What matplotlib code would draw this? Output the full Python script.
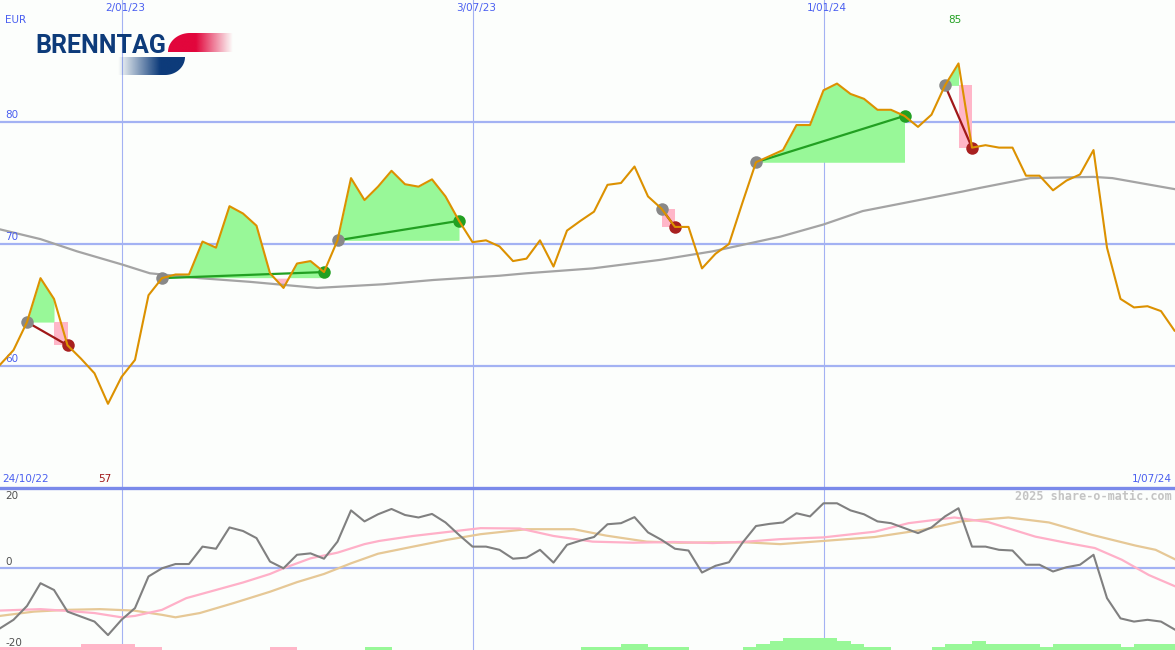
import numpy as np
import matplotlib
matplotlib.use("Agg")
import matplotlib.pyplot as plt
from matplotlib.path import Path
from matplotlib.patches import PathPatch

# weekly closes (EUR), week 0 .. week 87
price = [60.1, 61.3, 63.6, 67.2, 65.5, 61.7, 60.6, 59.4, 56.9, 59.1,
         60.5, 65.8, 67.2, 67.5, 67.5, 70.2, 69.7, 73.1, 72.5, 71.5,
         67.6, 66.4, 68.4, 68.6, 67.7, 70.3, 75.4, 73.6, 74.7, 76.0,
         74.9, 74.7, 75.3, 73.9, 71.9, 70.15, 70.3, 69.8, 68.6, 68.8,
         70.3, 68.15, 71.1, 71.9, 72.65, 74.85, 75.0, 76.35, 73.9, 72.9,
         71.4, 71.4, 68.0, 69.2, 70.0, 73.4, 76.7, 77.2, 77.7, 79.75,
         79.75, 82.6, 83.15, 82.3, 81.9, 81.0, 81.0, 80.5, 79.6, 80.6,
         83.0, 84.8, 77.9, 78.1, 77.9, 77.9, 75.6, 75.6, 74.4, 75.2,
         75.7, 77.7, 69.7, 65.5, 64.8, 64.9, 64.5, 62.9]

# long moving average (read at a few weeks)
ma_weeks = [0, 3, 5.7, 9.1, 11.1, 14.8, 18.5, 23.5, 28.4, 32.1, 37, 39,
            43.9, 48.9, 52.8, 57.8, 61, 63.9, 67.6, 71.3, 72.6, 76.3, 81,
            82.4, 87]
ma_vals = [71.2, 70.4, 69.4, 68.3, 67.6, 67.2, 66.9, 66.4, 66.7, 67.05,
           67.4, 67.6, 68.0, 68.7, 69.4, 70.6, 71.6, 72.7, 73.5, 74.3,
           74.6, 75.4, 75.5, 75.4, 74.5]

# lower panel: momentum
momentum = [-17.1, -14.7, -10.8, -4.4, -6.3, -12.4, -13.8, -15.2, -19.0, -14.7,
            -11.4, -2.5, -0.2, 1.0, 1.0, 5.9, 5.3, 11.3, 10.3, 8.3,
            1.7, -0.2, 3.6, 4.0, 2.5, 7.3, 16.1, 13.0, 15.0, 16.5,
            14.8, 14.1, 15.1, 12.7, 9.2, 5.9, 5.9, 5.0, 2.5, 2.8,
            5.0, 1.4, 6.4, 7.6, 8.6, 12.2, 12.5, 14.2, 9.9, 7.8,
            5.3, 4.8, -1.4, 0.5, 1.5, 7.0, 11.7, 12.3, 12.7, 15.3,
            14.4, 18.1, 18.1, 16.1, 15.0, 13.0, 12.5, 11.1, 9.7, 11.3,
            14.4, 16.7, 5.9, 5.9, 5.0, 4.8, 0.8, 0.8, -1.1, 0.1,
            0.8, 3.6, -8.6, -14.3, -15.2, -14.7, -15.2, -17.4]

pink_weeks = [0, 3, 5, 7, 9, 10, 12, 13.8, 16, 18, 20, 21, 23, 25, 27, 28.1,
              30.6, 33.1, 35.6, 38.5, 41, 43.9, 46.9, 49.9, 52.8, 55.3, 57.8,
              61, 64.8, 67.3, 70.7, 73.2, 76.7, 79.1, 81.1, 83.1, 85.1, 87]
pink_vals = [-12.1, -11.7, -12.2, -12.8, -14.0, -13.6, -11.9, -8.6, -6.3, -4.2,
             -1.8, -0.2, 2.6, 4.2, 6.6, 7.5, 8.9, 10.0, 11.1, 11.0, 8.9, 7.3,
             7.0, 7.2, 6.9, 7.3, 8.0, 8.5, 10.1, 12.5, 14.1, 12.8, 8.7, 6.9,
             5.5, 2.2, -2.1, -5.2]

tan_weeks = [0, 2.5, 4.9, 7.4, 9.9, 12, 13, 14.8, 17.3, 20, 22, 24, 26, 28,
             30.6, 33.1, 35.6, 39, 42.5, 44.9, 47.9, 50.4, 52.8, 55.3, 57.8,
             61, 64.8, 68.3, 71.2, 74.7, 77.7, 80.9, 84.1, 85.6, 87]
tan_vals = [-13.6, -12.4, -11.9, -11.7, -12.1, -13.3, -14.0, -12.8, -10.0,
            -6.8, -4.1, -1.8, 1.2, 3.9, 5.9, 7.8, 9.4, 10.8, 10.8, 9.0, 7.3,
            7.0, 7.1, 7.1, 6.6, 7.5, 8.6, 10.6, 13.0, 14.1, 12.7, 9.2, 6.2,
            5.0, 2.4]

# bottom strip bars, one per week (negative = pink)
strength = [-1, -1, -1, -1, -1, -1, -2, -2, -2, -2, -1, -1, 0, 0, 0, 0, 0, 0,
            0, 0, -1, -1, 0, 0, 0, 0, 0, 1, 1, 0, 0, 0, 0, 0, 0, 0, 0, 0, 0,
            0, 0, 0, 0, 1, 1, 1, 2, 2, 1, 1, 1, 0, 0, 0, 0, 1, 2, 3, 4, 4, 4,
            4, 3, 2, 1, 1, 0, 0, 0, 1, 2, 2, 3, 2, 2, 2, 2, 1, 2, 2, 2, 2, 2,
            1, 2, 2, 2]

# trade signals (entry week, exit week)
trades = [(2, 5), (12, 24), (25, 34), (49, 50), (56, 67), (70, 72)]

date_weeks = [9, 35, 61]
date_labels = ["2/01/23", "3/07/23", "1/01/24"]
price_grid = [60, 70, 80]
first_label = "24/10/22"
last_label = "1/07/24"

BG = "#fcfefc"
GRID = "#a3b2f3"
SEP = "#7a8aea"
BLUE_TXT = "#4a5ff0"
ORANGE = "#dc9100"
GFILL = "#98f898"
PFILL = "#ffb6c8"

W, H = 1175, 650
STEP = 13.5
fig = plt.figure(figsize=(W / 100, H / 100), dpi=100, facecolor=BG)
ax1 = fig.add_axes([0, 162 / H, 1, 488 / H])
ax2 = fig.add_axes([0, 0, 1, 162 / H])
xmax = W / STEP

for ax in (ax1, ax2):
    ax.set_facecolor(BG)
    ax.set_xlim(0, xmax)
    for s in ax.spines.values():
        s.set_visible(False)
    ax.set_xticks([])
    ax.set_yticks([])
    for d in date_weeks:
        ax.axvline(d, color=GRID, lw=0.8, zorder=0)

ax1.set_ylim(50, 90)
ax2.set_ylim(-23.2, 22.4)

## top panel
for g in price_grid:
    ax1.axhline(g, color=GRID, lw=1.6, zorder=0)
    ax1.text(5 / W, g + 0.15, str(g), transform=ax1.get_yaxis_transform(),
             color=BLUE_TXT, fontsize=7.5, va="bottom", ha="left")

x = np.arange(len(price))
p = np.array(price)
for a, b in trades:
    entry, ex = p[a], p[b]
    if ex >= entry:
        xs, ys = x[a:b + 1], p[a:b + 1]
        ax1.fill_between(xs, ys, entry, where=ys >= entry, interpolate=True,
                         color=GFILL, lw=0, zorder=1)
        ax1.fill_between(xs, ys, entry, where=ys < entry, interpolate=True,
                         color=PFILL, lw=0, zorder=1)
        lc, dc = "#22a022", "#22a022"
    else:
        xs, ys = x[a:b], p[a:b]
        if len(xs) > 1:
            ax1.fill_between(xs, ys, entry, where=ys >= entry, interpolate=True,
                             color=GFILL, lw=0, zorder=1)
        ax1.fill_between([b - 1, b], entry, ex, color=PFILL, lw=0, zorder=1)
        lc, dc = "#a01818", "#a82020"
    ax1.plot([a, b], [entry, ex], color=lc, lw=1.6, zorder=3)
    ax1.plot(a, entry, "o", color="#888888", ms=9, mew=0, zorder=4)
    ax1.plot(b, ex, "o", color=dc, ms=9, mew=0, zorder=4)

ax1.plot(ma_weeks, ma_vals, color="#a4a4a4", lw=1.6, zorder=2)
ax1.plot(x, p, color=ORANGE, lw=1.5, zorder=5)

ax1.text(5 / W, 1 - 20 / 488, "EUR", transform=ax1.transAxes, color=BLUE_TXT,
         fontsize=7.5, va="center", ha="left")
for d, lab in zip(date_weeks, date_labels):
    ax1.text(d + 0.25, 1 - 8 / 488, lab, transform=ax1.get_xaxis_transform(),
             color=BLUE_TXT, fontsize=7.5, va="center", ha="center")
imax, imin = int(np.argmax(p)), int(np.argmin(p))
ax1.text(imax - 0.25, 1 - 20 / 488, "%d" % round(p[imax]),
         transform=ax1.get_xaxis_transform(), color="#22a022", fontsize=7.5,
         va="center", ha="center")
ax1.text(imin - 0.2, 9 / 488, "%d" % round(p[imin]),
         transform=ax1.get_xaxis_transform(), color="#a01818", fontsize=7.5,
         va="center", ha="center")
ax1.text(2 / W, 9 / 488, first_label, transform=ax1.transAxes,
         color=BLUE_TXT, fontsize=7.5, va="center", ha="left")
ax1.text(1 - 3 / W, 9 / 488, last_label, transform=ax1.transAxes,
         color=BLUE_TXT, fontsize=7.5, va="center", ha="right")

## bottom panel
ax2.spines["top"].set_visible(True)
ax2.spines["top"].set_color(SEP)
ax2.spines["top"].set_linewidth(2.4)
ax2.axhline(0, color=GRID, lw=1.6, zorder=0)

unit = 3 / 3.55
s = np.array(strength)
ax2.bar(np.arange(len(s)) + 0.5, np.abs(s) * unit, width=1.0, bottom=-23.2,
        color=[GFILL if v > 0 else PFILL for v in s], lw=0, zorder=1)

ax2.plot(tan_weeks, tan_vals, color="#e6c896", lw=1.6, zorder=2)
ax2.plot(pink_weeks, pink_vals, color="#ffb0c8", lw=1.6, zorder=2)
ax2.plot(np.arange(len(momentum)), momentum, color="#808080", lw=1.5, zorder=3)

for val, ypos in [(20, 20.2), (0, 1.7), (-20, -21.1)]:
    ax2.text(5 / W, ypos, str(val), transform=ax2.get_yaxis_transform(),
             color="#505050", fontsize=7.5, va="center", ha="left")
ax2.text(1 - 3 / W, 1 - 8 / 162, "2025 share-o-matic.com",
         transform=ax2.transAxes, color="#c4c4c4", fontsize=8.5,
         fontfamily="DejaVu Sans Mono", fontweight="bold",
         va="center", ha="right")

## logo overlay in pixel coordinates
ov = fig.add_axes([0, 0, 1, 1], zorder=10)
ov.set_xlim(0, W)
ov.set_ylim(H, 0)
ov.axis("off")
ov.patch.set_alpha(0)

navy = np.array([13, 59, 122]) / 255
red = np.array([226, 6, 60]) / 255
t = np.linspace(0, np.pi / 2, 30)

red_pts = [(233, 33)] + list(zip(190 - 22 * np.sin(t), 52 - 19 * np.cos(t))) + [(233, 52)]
red_patch = PathPatch(Path(red_pts + [red_pts[0]], closed=True), fc="none", ec="none")
ov.add_patch(red_patch)
gx = np.linspace(168, 233, 200)
grad = np.zeros((1, 200, 4))
grad[..., :3] = red
grad[..., 3] = np.clip((233 - gx) / (233 - 196), 0, 1)
im = ov.imshow(grad, extent=(168, 233, 52, 33), aspect="auto", interpolation="bilinear")
im.set_clip_path(red_patch)

navy_pts = [(118, 57)] + list(zip(165 + 20 * np.cos(t), 57 + 18 * np.sin(t))) + [(118, 75)]
navy_patch = PathPatch(Path(navy_pts + [navy_pts[0]], closed=True), fc="none", ec="none")
ov.add_patch(navy_patch)
gx = np.linspace(118, 185, 200)
grad2 = np.zeros((1, 200, 4))
grad2[..., :3] = navy
grad2[..., 3] = np.clip((gx - 118) / (160 - 118), 0, 1)
im2 = ov.imshow(grad2, extent=(118, 185, 75, 57), aspect="auto", interpolation="bilinear")
im2.set_clip_path(navy_patch)
ov.set_xlim(0, W)
ov.set_ylim(H, 0)

ov.text(35, 53, "BRENNTAG", fontfamily="Roboto", fontweight="bold", fontsize=18,
        color=navy, va="baseline", ha="left")

fig.savefig("out.png", dpi=100, facecolor=BG)
